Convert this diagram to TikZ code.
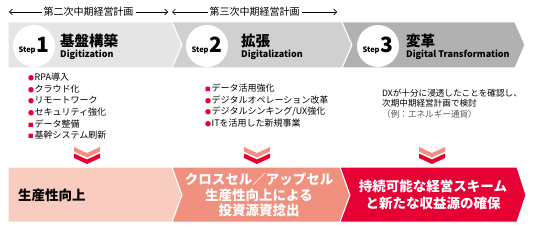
\documentclass[tikz,border=0pt]{standalone}
\usepackage{fontspec}
\setmainfont{Noto Sans CJK JP}
\usetikzlibrary{arrows.meta}
\definecolor{gA}{HTML}{E5E5E5}
\definecolor{gB}{HTML}{D0D0D0}
\definecolor{gC}{HTML}{B1B1B1}
\definecolor{pA}{HTML}{F9CCC0}
\definecolor{pB}{HTML}{F0907F}
\definecolor{rd}{HTML}{E60033}
\definecolor{noteg}{HTML}{555555}
\newcommand\bc{\textcolor{rd}{\fontsize{6}{6}\selectfont ●}\hspace{0.5pt}}
\newcommand\bs{\textcolor{rd}{\fontsize{5.5}{6}\selectfont ■}\hspace{1pt}}
\tikzset{
  band/.style={draw=white, line width=1pt},
  plan/.style={fill=white, inner sep=2pt, font=\fontsize{10}{12}\selectfont},
  planarrow/.style={line width=0.6pt, {Straight Barb[length=3pt,width=6pt]}-{Straight Barb[length=3pt,width=6pt]}},
  stepcircle/.style={circle, fill=white, minimum size=42pt, inner sep=0pt},
  steplabel/.style={inner sep=0pt},
  titlejp/.style={anchor=west, inner sep=0pt, font=\fontsize{14.5}{16}\selectfont\bfseries},
  titleen/.style={anchor=west, inner sep=0pt, font=\fontsize{9}{10}\selectfont\bfseries},
  item/.style={anchor=west, inner sep=0pt, font=\fontsize{9}{11}\selectfont},
  note/.style={anchor=west, inner sep=0pt, font=\fontsize{8.6}{10}\selectfont},
  result/.style={inner sep=0pt, align=center, font=\bfseries},
  dchev/.pic={
    \fill[pB] (-13,0)--(0,6)--(13,0)--(13,4.5)--(0,10.5)--(-13,4.5)--cycle;
    \fill[rd] (-13,6.5)--(0,12.5)--(13,6.5)--(13,11)--(0,17)--(-13,11)--cycle;
  }
}
\newcommand\stepmark[1]{{\fontsize{7.5}{8}\selectfont\bfseries Step}\hspace{1pt}{\fontsize{21}{21}\selectfont\bfseries #1}}
\begin{document}
\begin{tikzpicture}[x=1pt,y=-1pt]
\useasboundingbox (0,0) rectangle (533,230);
% plan arrows
\coordinate (p1l) at (9,12);
\coordinate (p1r) at (168,12);
\coordinate (p2l) at (172,12);
\coordinate (p2r) at (337,12);
\draw[planarrow] (p1l) -- (p1r) node[midway, plan] (plan2) {第二次中期経営計画};
\draw[planarrow] (p2l) -- (p2r) node[midway, plan] (plan3) {第三次中期経営計画};
% step band
\fill[gA, band] (8,22) -- (172,22) -- (182,45) -- (172,68) -- (8,68) -- cycle;
\fill[gB, band] (172,22) -- (342,22) -- (352,45) -- (342,68) -- (172,68) -- (182,45) -- cycle;
\fill[gC, band] (342,22) -- (515,22) -- (525,45) -- (515,68) -- (342,68) -- (352,45) -- cycle;
\node[stepcircle] (c1) at (34,46) {};
\node[stepcircle] (c2) at (207,46) {};
\node[stepcircle] (c3) at (378,46) {};
\node[steplabel] (s1) at (c1) {\stepmark{1}};
\node[steplabel] (s2) at (c2) {\stepmark{2}};
\node[steplabel] (s3) at (c3) {\stepmark{3}};
\node[titlejp] (t1) at (60,41) {基盤構築};
\node[titleen] (e1) at (60,55) {Digitization};
\node[titlejp] (t2) at (241,41) {拡張};
\node[titleen] (e2) at (241,55) {Digitalization};
\node[titlejp] (t3) at (406,41) {変革};
\node[titleen] (e3) at (406,55) {Digital Transformation};
% lists
\node[item] (a1) at (28,77) {\bc RPA導入};
\node[item] (a2) at (28,88.7) {\bc クラウド化};
\node[item] (a3) at (28,100.4) {\bc リモートワーク};
\node[item] (a4) at (28,112.1) {\bc セキュリティ強化};
\node[item] (a5) at (28,123.8) {\bs データ整備};
\node[item] (a6) at (28,135.5) {\bs 基幹システム刷新};
\node[item] (b1) at (205,88) {\bs データ活用強化};
\node[item] (b2) at (205,99.7) {\bc デジタルオペレーション改革};
\node[item] (b3) at (205,111.4) {\bc デジタルシンキング/UX強化};
\node[item] (b4) at (205,123.1) {\bc ITを活用した新規事業};
\node[note] (n1) at (382,93) {DXが十分に浸透したことを確認し、};
\node[note] (n2) at (382,103.5) {次期中期経営計画で検討};
\node[note, text=noteg] (n3) at (382,114) {（例：エネルギー通貨）};
% chevrons
\pic at (87,147) {dchev};
\pic at (257,147) {dchev};
\pic at (432,147) {dchev};
% result band
\fill[pA, band] (8,167) -- (172,167) -- (182,195) -- (172,222) -- (8,222) -- cycle;
\fill[pB, band] (172,167) -- (340,167) -- (350,195) -- (340,222) -- (172,222) -- (182,195) -- cycle;
\fill[rd, band] (340,167) -- (517,167) -- (526,195) -- (517,222) -- (340,222) -- (350,195) -- cycle;
\node[result, anchor=west, font=\fontsize{13.5}{15}\selectfont\bfseries] (r1) at (18,195) {生産性向上};
\node[result, text=white, font=\fontsize{13.5}{15.5}\selectfont\bfseries] (r2) at (259,195) {クロスセル／アップセル\\生産性向上による\\投資源資捻出};
\node[result, text=white, font=\fontsize{13.5}{16.5}\selectfont\bfseries] (r3) at (433,195) {持続可能な経営スキーム\\と新たな収益源の確保};
\end{tikzpicture}
\end{document}
